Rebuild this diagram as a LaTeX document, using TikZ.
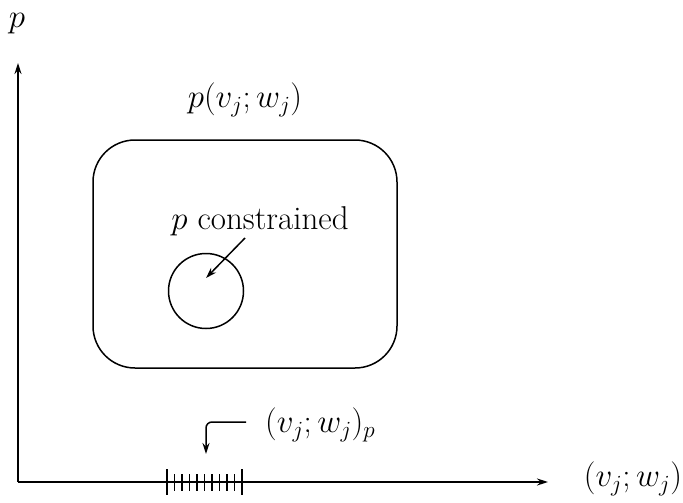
\RequirePackage{fix-cm}
\documentclass[tikz,border=0pt]{standalone}
\usetikzlibrary{arrows.meta}
\begin{document}
\begin{tikzpicture}[x=1pt,y=-1pt,
  ln/.style={line width=1.5pt},
  tip/.style={-{Stealth[length=11pt,width=7pt]}},
  lbl/.style={inner sep=0pt,font=\fontsize{33}{40}\selectfont},
  bigtick/.style={line width=2.2pt},
  smalltick/.style={line width=1.6pt}]
\useasboundingbox (0,0) rectangle (683,503);
\coordinate (O) at (18,482);
\coordinate (Ytip) at (18,63);
\coordinate (Xtip) at (548,482);
\draw[ln,tip] (O) -- (Ytip);
\draw[ln,tip] (O) -- (Xtip);
\node[lbl] (plab) at (17,24) {$p$};
\node[lbl] (xlab) at (633,479) {$(v_j;w_j)$};
\node[ln,draw,rounded corners=42pt,minimum width=304pt,minimum height=228pt,inner sep=0pt] (reg) at (245,254) {};
\node[lbl] (reglab) at (245,100) {$p(v_j;w_j)$};
\node[ln,draw,circle,minimum size=75pt,inner sep=0pt] (circ) at (206,291) {};
\node[lbl] (clab) at (260,221) {$p$ constrained};
\coordinate (cs) at (245,238);
\coordinate (ce) at (206,278);
\draw[ln,tip] (cs) -- (ce);
% hatched segment
\draw[bigtick] (167,469) -- (167,495);
\draw[bigtick] (242,469) -- (242,495);
\foreach \i in {1,...,9} {\draw[smalltick] ({167+7.5*\i},474) -- ({167+7.5*\i},491);}
\node[lbl,anchor=west] (plab2) at (265,425) {$(v_j;w_j)_p$};
\coordinate (hs) at (246,422);
\coordinate (hc) at (206,422);
\coordinate (he) at (206,454);
\draw[ln,tip,rounded corners=6pt] (hs) -- (hc) -- (he);
\end{tikzpicture}
\end{document}
